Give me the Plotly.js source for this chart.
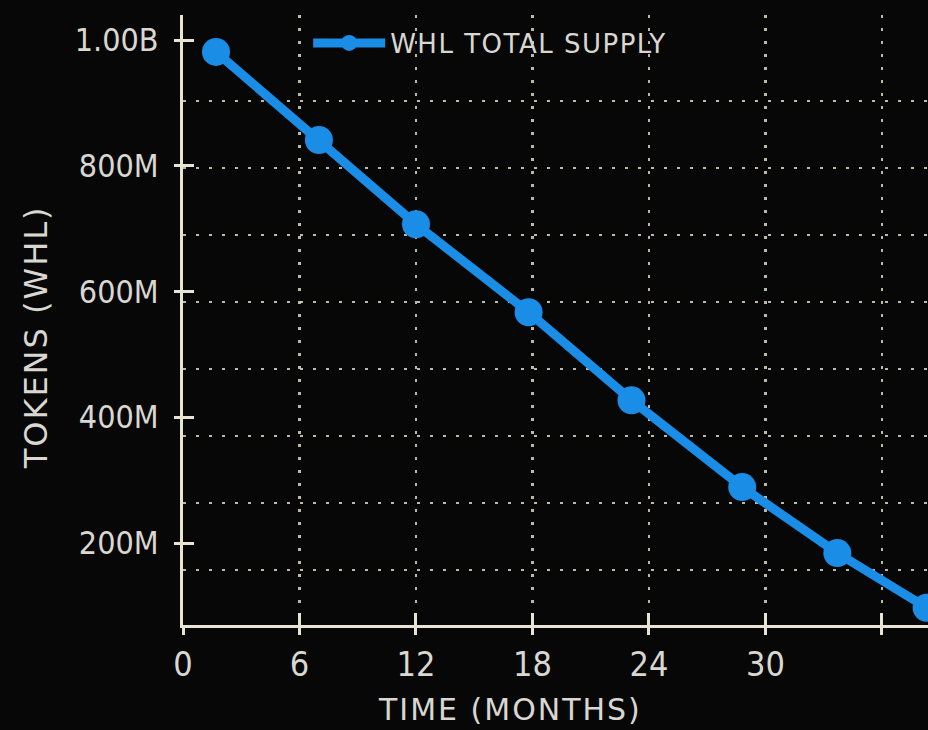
<!DOCTYPE html>
<html>
<head>
<meta charset="utf-8">
<script src="https://cdn.plot.ly/plotly-3.0.1.min.js"></script>
<style>
  html, body { margin: 0; padding: 0; background: #070707; }
  #chart { width: 928px; height: 730px; }
  .annotation-text { letter-spacing: 2px; }
  .legendtext { letter-spacing: 1.5px; }
</style>
</head>
<body>
<div id="chart"></div>
<script>
// ---- data ----
const months = [1.7, 7.0, 12.0, 17.8, 23.1, 28.8, 33.7, 38.3];
const totalSupply = [981e6, 841e6, 707e6, 567e6, 427e6, 289e6, 184e6, 97e6];
const seriesName = 'WHL TOTAL SUPPLY';

const xTickVals = [0, 6, 12, 18, 24, 30, 36];
const xTickText = ['0', '6', '12', '18', '24', '30', ''];
const yTickVals = [200e6, 400e6, 600e6, 800e6, 1e9];
const yTickText = ['200M', '400M', '600M', '800M', '1.00B'];
const gridVals = [0, 1, 2, 3, 4, 5, 6, 7];

const xTitle = 'TIME (MONTHS)';
const yTitle = 'TOKENS (WHL)';

// ---- styling ----
const cream = '#e8e3d3';
const textColor = '#d9d7d1';
const blue = '#1a8de6';
const gridColor = 'rgba(220,215,200,0.85)';
const gridDash = '3px,10px';
const xRange = [0, 38.37];
const yRange = [69.6e6, 1039.8e6];
const tickFont = 'DejaVu Sans Condensed, DejaVu Sans, sans-serif';
const titleFont = 'DejaVu Sans, Verdana, sans-serif';

const supplyTrace = {
  x: months,
  y: totalSupply,
  name: seriesName,
  type: 'scatter',
  mode: 'lines+markers',
  line: { color: blue, width: 9 },
  marker: { color: blue, size: 28 },
  xaxis: 'x',
  yaxis: 'y'
};
// empty helper traces so the overlay axes (inner tick marks, grid) get drawn
const tickHelper = { x: [], y: [], type: 'scatter', mode: 'markers', xaxis: 'x2', yaxis: 'y2', showlegend: false, hoverinfo: 'skip' };
const gridHelper = { x: [], y: [], type: 'scatter', mode: 'markers', xaxis: 'x', yaxis: 'y3', showlegend: false, hoverinfo: 'skip' };

const layout = {
  width: 928,
  height: 730,
  margin: { l: 183, r: 0, t: 15, b: 105, pad: 0 },
  paper_bgcolor: '#070707',
  plot_bgcolor: '#070707',
  showlegend: true,
  legend: {
    x: 0.168, xanchor: 'left',
    y: 0.954, yanchor: 'middle',
    bgcolor: 'rgba(0,0,0,0)',
    font: { family: titleFont, size: 26, color: textColor },
    itemwidth: 72
  },
  xaxis: {
    range: xRange,
    tickmode: 'array',
    tickvals: xTickVals,
    ticktext: xTickText,
    ticks: 'outside',
    ticklen: 7,
    tickwidth: 3,
    tickcolor: cream,
    showline: true,
    linecolor: cream,
    linewidth: 3,
    zeroline: false,
    showgrid: true,
    gridcolor: gridColor,
    gridwidth: 2.5,
    griddash: gridDash,
    tickfont: { family: tickFont, size: 34, color: textColor },
    ticklabelstandoff: 0
  },
  xaxis2: {
    overlaying: 'x',
    anchor: 'y',
    side: 'bottom',
    range: xRange,
    tickmode: 'array',
    tickvals: xTickVals,
    ticks: 'inside',
    ticklen: 12,
    tickwidth: 3,
    tickcolor: cream,
    showticklabels: false,
    showgrid: false,
    zeroline: false,
    showline: false
  },
  yaxis: {
    range: yRange,
    tickmode: 'array',
    tickvals: yTickVals,
    ticktext: yTickText,
    ticks: 'outside',
    ticklen: 6,
    tickwidth: 3,
    tickcolor: cream,
    showline: true,
    linecolor: cream,
    linewidth: 3,
    zeroline: false,
    showgrid: false,
    tickfont: { family: tickFont, size: 32, color: textColor },
    ticklabelstandoff: 9
  },
  yaxis2: {
    overlaying: 'y',
    anchor: 'x2',
    side: 'left',
    range: yRange,
    tickmode: 'array',
    tickvals: yTickVals,
    ticks: 'inside',
    ticklen: 11,
    tickwidth: 3,
    tickcolor: cream,
    showticklabels: false,
    showgrid: false,
    zeroline: false,
    showline: false
  },
  yaxis3: {
    overlaying: 'y',
    anchor: 'x',
    side: 'left',
    range: [-0.821, 8.283],
    tickmode: 'array',
    tickvals: gridVals,
    ticks: '',
    showticklabels: false,
    showgrid: true,
    gridcolor: gridColor,
    gridwidth: 2.5,
    griddash: gridDash,
    zeroline: false,
    showline: false
  },
  annotations: [
    {
      text: xTitle, xref: 'paper', yref: 'paper',
      x: 0.439, y: -0.138, xanchor: 'center', yanchor: 'middle',
      showarrow: false,
      font: { family: titleFont, size: 30, color: textColor }
    },
    {
      text: yTitle, xref: 'paper', yref: 'paper',
      x: -0.197, y: 0.472, xanchor: 'center', yanchor: 'middle',
      textangle: -90, showarrow: false,
      font: { family: titleFont, size: 32, color: textColor }
    }
  ]
};

Plotly.newPlot('chart', [gridHelper, tickHelper, supplyTrace], layout, { displayModeBar: false, staticPlot: true });
</script>
</body>
</html>
